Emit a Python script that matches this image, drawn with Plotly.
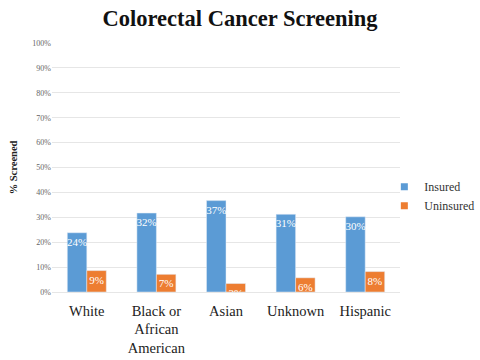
import plotly.graph_objects as go

categories = ["White", "Black or<br>African<br>American", "Asian", "Unknown", "Hispanic"]
insured = [23.8, 31.7, 36.7, 31.2, 30.2]
uninsured = [8.6, 7.1, 3.4, 5.7, 8.2]
insured_labels = ["24%", "32%", "37%", "31%", "30%"]
uninsured_labels = ["9%", "7%", "3%", "6%", "8%"]
series_names = ["Insured", "Uninsured"]
series_colors = ["#5b9bd5", "#ed7d31"]
y_ticks = [0, 10, 20, 30, 40, 50, 60, 70, 80, 90, 100]
y_tick_labels = [f"{v}%" for v in y_ticks]

SERIF = "Liberation Serif, Times New Roman, serif"

fig = go.Figure()
for name, vals, labels, color in zip(series_names, [insured, uninsured],
                                     [insured_labels, uninsured_labels], series_colors):
    fig.add_trace(go.Bar(
        name=name, x=categories, y=vals, text=labels,
        marker_color=color, textposition="inside", insidetextanchor="end",
        constraintext="none", textangle=0, showlegend=False,
        textfont=dict(family=SERIF, size=11, color="white"),
    ))
for name, color in zip(series_names, series_colors):
    fig.add_trace(go.Scatter(
        name=name, x=[None], y=[None], mode="markers",
        marker=dict(symbol="square", size=7, color=color),
        showlegend=True,
    ))

fig.update_layout(
    width=480, height=360,
    margin=dict(l=52, r=80, t=43, b=68, autoexpand=False),
    paper_bgcolor="white", plot_bgcolor="white",
    barmode="group", bargap=0.44, bargroupgap=0,
    title=dict(text="<b>Colorectal Cancer Screening</b>", x=0.5, xref="container",
               y=0.95, yref="container", yanchor="middle", xanchor="center",
               font=dict(family=SERIF, size=22.5, color="#111111")),
    legend=dict(x=0.955, y=0.385, xanchor="left", yanchor="middle",
                font=dict(family=SERIF, size=12, color="#333333"),
                itemwidth=30, tracegroupgap=2, bgcolor="rgba(0,0,0,0)"),
    showlegend=True,
    font=dict(family=SERIF),
)
fig.update_xaxes(
    tickfont=dict(family=SERIF, size=14.5, color="#222222"),
    showgrid=False, showline=False, ticks="", tickangle=0, automargin=False,
    ticklabelstandoff=8,
)
fig.update_yaxes(
    range=[0, 100], tickvals=y_ticks, ticktext=y_tick_labels,
    tickfont=dict(family=SERIF, size=8, color="#666666"),
    showgrid=True, gridcolor="#e6e6e6", gridwidth=1, zeroline=True,
    zerolinecolor="#e6e6e6", zerolinewidth=1, automargin=False,
    title=dict(text="<b>% Screened</b>", font=dict(family=SERIF, size=10.5, color="#222222"), standoff=12),
    ticklen=0,
)

fig.write_html("out.html", config={"displayModeBar": False},
               post_script="document.body.style.margin='0';document.body.style.overflow='hidden';")
